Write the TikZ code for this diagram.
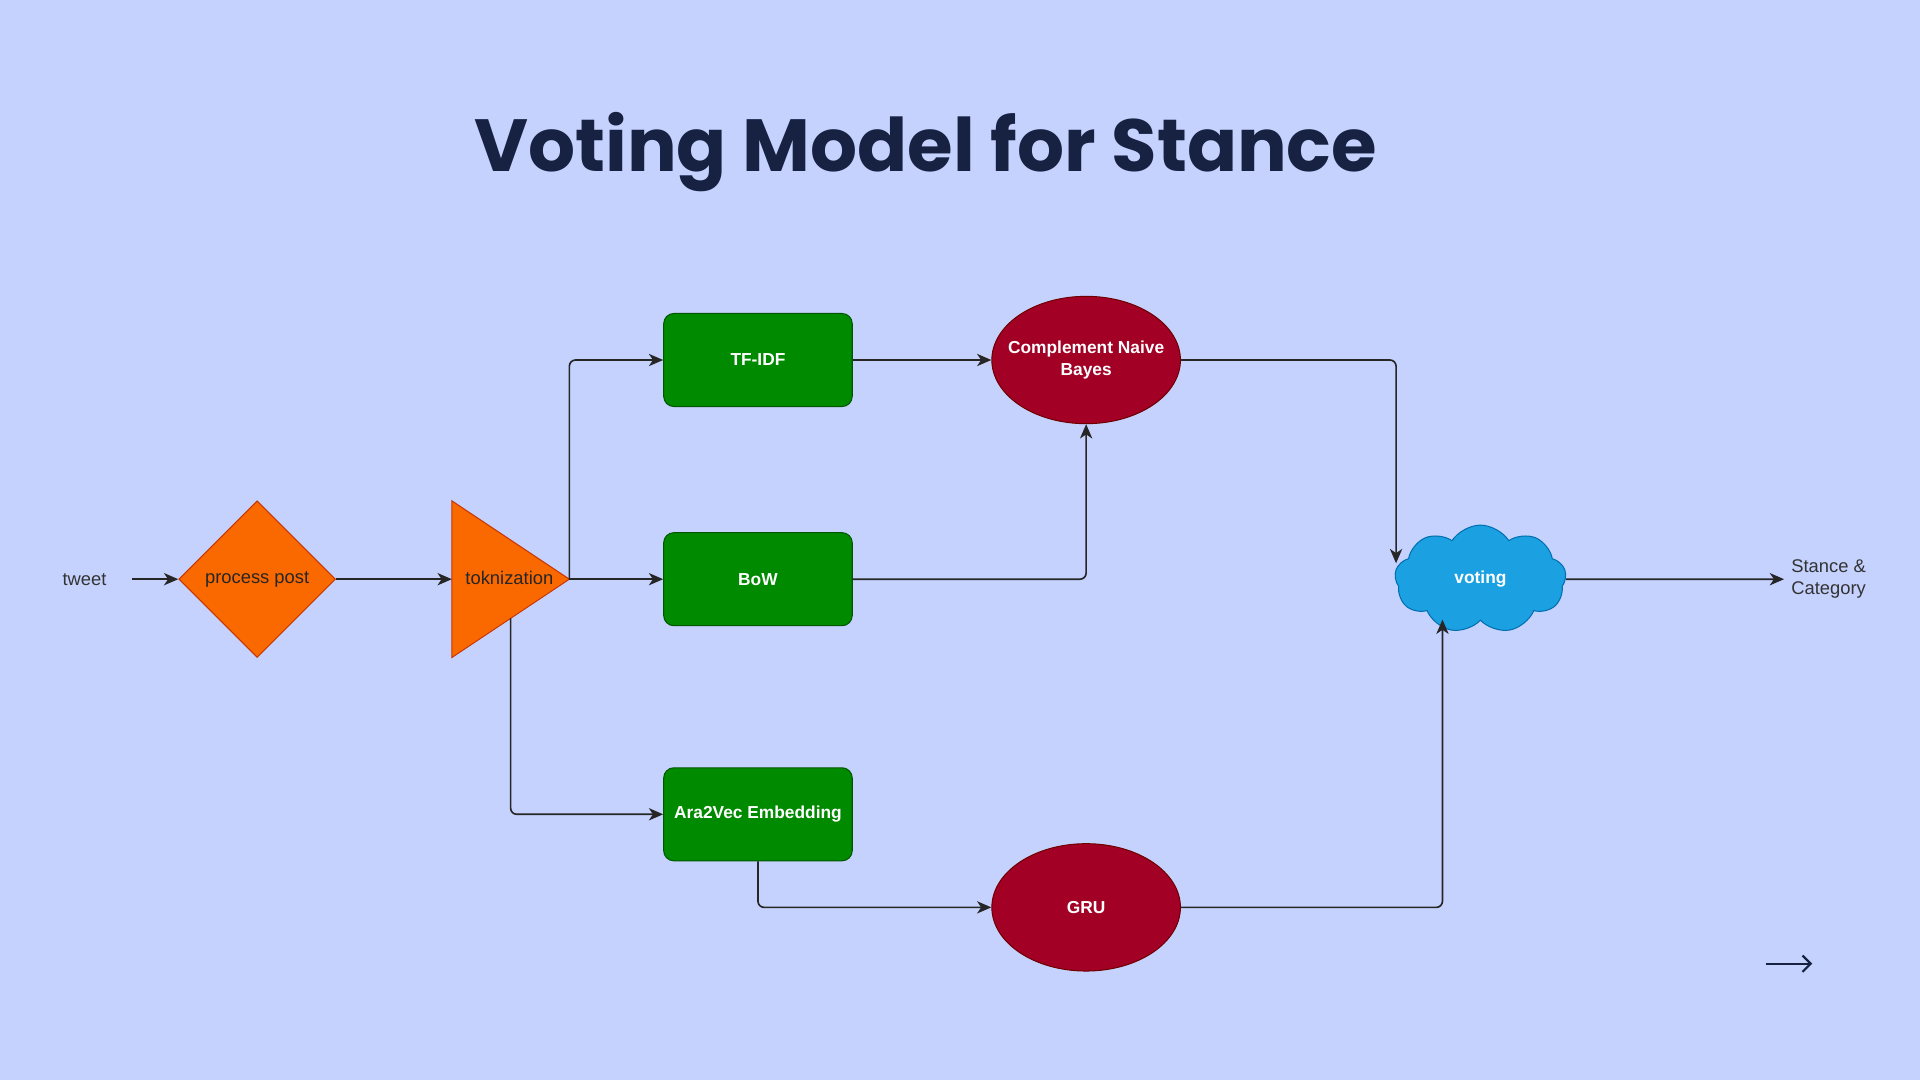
\documentclass[tikz,border=0pt]{standalone}
\usepackage{fontspec}
\setmainfont{Liberation Sans}
\newfontfamily\titlefont{Poppins}
\usetikzlibrary{shapes.geometric,shapes.symbols,arrows.meta,calc,positioning}
\definecolor{bgblue}{HTML}{C5D2FE}
\definecolor{titlenavy}{HTML}{172142}
\definecolor{prepfill}{HTML}{FA6800}
\definecolor{prepline}{HTML}{C73500}
\definecolor{featfill}{HTML}{008A00}
\definecolor{featline}{HTML}{005700}
\definecolor{modelfill}{HTML}{A20025}
\definecolor{modelline}{HTML}{6F0000}
\definecolor{votefill}{HTML}{1BA1E2}
\definecolor{voteline}{HTML}{006EAF}
\tikzset{
	conn/.style={draw=black!85, line width=0.8pt, rounded corners=3pt, -{Stealth[length=7pt,width=6pt,inset=2pt]}},
	plain/.style={font=\fontsize{9}{11}\selectfont, text=black!80},
	prep/.style={fill=prepfill, draw=prepline, line width=0.5pt},
	featbox/.style={rectangle, rounded corners=5pt, fill=featfill, draw=featline, line width=0.5pt, minimum width=92.4pt, minimum height=45.6pt, inner sep=0pt, text=white, font=\bfseries\fontsize{8.5}{10.5}\selectfont, align=center},
	model/.style={ellipse, fill=modelfill, draw=modelline, line width=0.5pt, minimum width=92.4pt, minimum height=62.4pt, inner xsep=-12pt, inner ysep=0pt, text=white, font=\bfseries\fontsize{8.5}{11}\selectfont, align=center},
	votecloud/.style={cloud, cloud puffs=9, cloud puff arc=115, aspect=1.5, fill=votefill, draw=voteline, line width=0.5pt, minimum width=84pt, minimum height=53pt, inner sep=0pt, text=white, font=\bfseries\fontsize{8.5}{10.5}\selectfont}
}
\begin{document}
\begin{tikzpicture}[x=0.6pt,y=-0.6pt]
			\fill[bgblue] (0,0) rectangle (1568,882);
			\node[anchor=base, font=\titlefont\bfseries\fontsize{36.2}{40}\selectfont, text=titlenavy] (title) at (756,140) {Voting Model for Stance};
			% input and preprocessing
			\node[plain] (tweet) at (69,473) {tweet};
			\node[prep, diamond, aspect=1, minimum width=76.8pt, minimum height=76.8pt, inner sep=0pt, font=\fontsize{9}{11}\selectfont, text=black!85] (pp) at (210,473) {process post};
			\coordinate (toktop) at (369,409);
			\coordinate (tokbl) at (369,537);
			\coordinate (tokapex) at (465,473);
			\coordinate (tokin) at (369,473);
			\coordinate (tokout) at ($(tokbl)!0.5!(tokapex)$);
			\filldraw[prep] (toktop) -- (tokapex) -- (tokbl) -- cycle;
			\node[plain, text=black!85] (tok) at (416,472) {toknization};
			% features
			\node[featbox] (tfidf) at (619,294) {TF-IDF};
			\node[featbox] (bow) at (619,473) {BoW};
			\node[featbox] (ara) at (619,665) {Ara2Vec Embedding};
			% models
			\node[model] (cnb) at (887,294) {Complement Naive\\Bayes};
			\node[model] (gru) at (887,741) {GRU};
			\node[votecloud] (vote) at (1209,473) {voting};
			\node[plain, anchor=west, align=left] (stance) at (1457,473) {Stance \&\\Category};
			% connectors
			\draw[conn, shorten <=9pt] (tweet.east) -- (pp.west);
			\draw[conn] (pp.east) -- (tokin);
			\draw[conn] (tokapex) -- (bow.west);
			\draw[conn] (tokapex) |- (tfidf.west);
			\draw[conn] (tokout) |- (ara.west);
			\draw[conn] (tfidf.east) -- (cnb.west);
			\draw[conn] (bow.east) -| (cnb.south);
			\draw[conn] (ara.south) |- (gru.west);
			\draw[conn] (cnb.east) -| ($(vote.west)+(1,-13)$);
			\draw[conn] (gru.east) -| ($(vote.center)+(-31,33)$);
			\draw[conn] (vote.east) -- (stance.west);
			% small arrow bottom right
			\coordinate (deca) at (1442,787);
			\coordinate (decb) at (1480,787);
			\draw[titlenavy, line width=1.1pt, -{Straight Barb[length=4pt,width=8pt]}] (deca) -- (decb);
	\end{tikzpicture}
\end{document}
